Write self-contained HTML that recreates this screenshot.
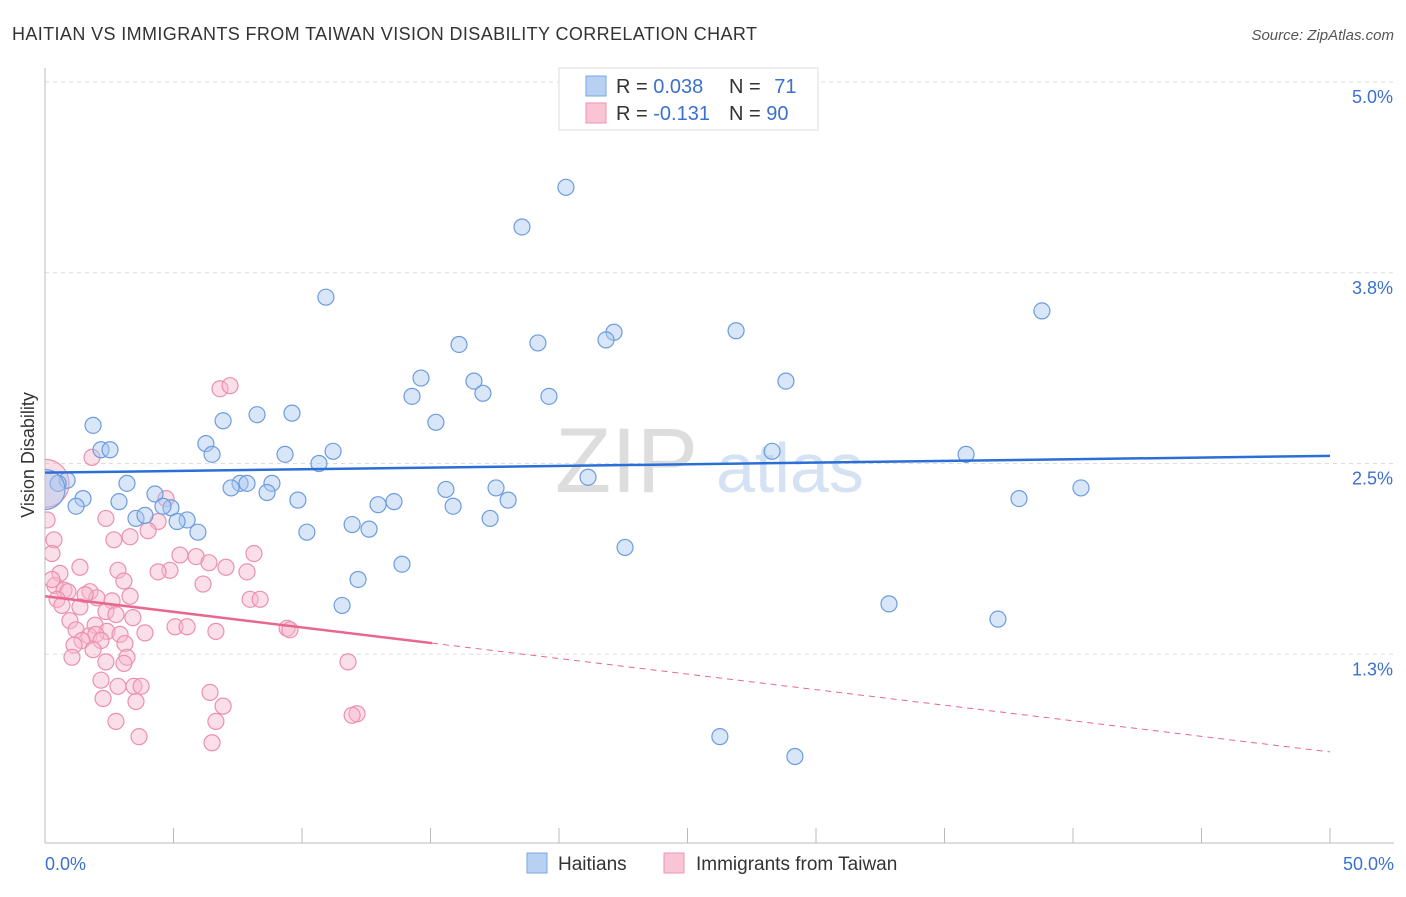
<!DOCTYPE html>
<html><head><meta charset="utf-8"><style>
body{margin:0;background:#fff;font-family:"Liberation Sans",sans-serif}
svg text{font-family:"Liberation Sans",sans-serif}
</style></head><body>
<svg width="1406" height="892">
<defs><clipPath id="plotclip"><rect x="45" y="60" width="1360" height="790"/></clipPath></defs>
<text x="12" y="40" font-size="18" fill="#333" textLength="745">HAITIAN VS IMMIGRANTS FROM TAIWAN VISION DISABILITY CORRELATION CHART</text>
<text x="1394" y="40" font-size="15" fill="#555" font-style="italic" text-anchor="end">Source: ZipAtlas.com</text>
<g id="grid"></g>
<text x="555" y="492" font-size="92" fill="#ddd" font-family="Liberation Serif">ZIP</text>
<text x="716" y="492" font-size="70" fill="#d4e2f4">atlas</text>
<text x="34" y="455" font-size="18" fill="#333" text-anchor="middle" transform="rotate(-90 34 455)">Vision Disability</text>
<g id="marks" clip-path="url(#plotclip)"></g>
<g>
<rect x="559" y="68" width="259" height="62" fill="#fff" stroke="#ddd"/>
<rect x="586" y="76" width="20" height="20" fill="#b8d1f3" stroke="#7aa6e6"/>
<rect x="586" y="103" width="20" height="20" fill="#f9c5d5" stroke="#ee94b2"/>
<text x="616" y="93" font-size="20" fill="#333">R = <tspan fill="#3b70d0">0.038</tspan></text>
<text x="729" y="93" font-size="20" fill="#333">N = <tspan fill="#3b70d0" dx="8">71</tspan></text>
<text x="616" y="120" font-size="20" fill="#333">R = <tspan fill="#3b70d0">-0.131</tspan></text>
<text x="729" y="120" font-size="20" fill="#333">N = <tspan fill="#3b70d0">90</tspan></text>
</g>
<g>
<rect x="527" y="853" width="20" height="20" fill="#b8d1f3" stroke="#7aa6e6"/>
<text x="558" y="870" font-size="19" fill="#333">Haitians</text>
<rect x="664" y="853" width="20" height="20" fill="#f9c5d5" stroke="#ee94b2"/>
<text x="696" y="870" font-size="19" fill="#333">Immigrants from Taiwan</text>
</g>
</svg>
<script>
const yTicks=[5.0,3.75,2.5,1.25];
const yTickLabels=["5.0%","3.8%","2.5%","1.3%"];
const xTickLabels=["0.0%","50.0%"];
const haitiX=[20.27,18.56,10.93,38.79,26.89,22.14,21.83,19.18,16.11,14.63,16.69,28.83,14.28,17.04,19.61,9.61,8.25,6.93,15.21,1.87,6.26,2.18,2.53,6.50,11.21,9.34,10.66,28.29,35.84,21.13,0.86,0.51,3.19,7.59,7.86,7.24,8.83,8.64,15.60,17.55,40.31,4.28,1.48,9.84,2.88,37.90,13.58,12.96,18.02,4.90,4.59,1.21,15.88,3.54,3.89,5.53,5.14,17.32,11.95,12.61,10.19,5.95,22.57,13.89,12.18,11.56,32.84,37.08,26.26,29.18,0.0];
const haitiY=[4.31,4.05,3.59,3.50,3.37,3.36,3.31,3.29,3.28,3.06,3.04,3.04,2.94,2.96,2.94,2.83,2.82,2.78,2.77,2.75,2.63,2.59,2.59,2.56,2.58,2.56,2.50,2.58,2.56,2.41,2.39,2.37,2.37,2.37,2.37,2.34,2.37,2.31,2.33,2.34,2.34,2.30,2.27,2.26,2.25,2.27,2.25,2.23,2.26,2.21,2.22,2.22,2.22,2.14,2.16,2.13,2.12,2.14,2.10,2.07,2.05,2.05,1.95,1.84,1.74,1.57,1.58,1.48,0.71,0.58,2.33];
const taiwanX=[1.83,6.81,7.20,4.71,2.37,4.40,3.31,2.68,4.01,0.35,0.27,5.25,5.88,8.13,6.38,1.36,4.86,7.04,7.86,4.40,2.84,0.58,3.07,0.39,6.15,0.74,0.89,1.75,2.02,1.56,3.31,0.47,7.98,8.37,2.61,1.36,0.66,2.37,2.76,3.42,1.95,0.97,5.06,5.53,9.42,9.53,1.21,6.65,2.41,3.89,1.71,1.98,2.92,1.44,2.18,1.13,3.11,1.87,3.19,3.07,1.05,11.79,2.37,2.18,2.84,3.46,3.74,6.42,2.26,3.54,6.93,2.76,6.65,12.14,11.95,3.66,6.50,0.08,0.27,0.0];
const taiwanY=[2.54,2.99,3.01,2.27,2.14,2.12,2.02,2.00,2.06,2.00,1.91,1.90,1.89,1.91,1.85,1.82,1.80,1.82,1.79,1.79,1.80,1.78,1.73,1.70,1.71,1.67,1.66,1.66,1.62,1.64,1.63,1.61,1.61,1.61,1.60,1.56,1.57,1.53,1.51,1.49,1.44,1.47,1.43,1.43,1.42,1.41,1.41,1.40,1.40,1.39,1.37,1.38,1.38,1.34,1.34,1.31,1.32,1.28,1.23,1.19,1.23,1.20,1.20,1.08,1.04,1.04,1.04,1.00,0.96,0.94,0.91,0.81,0.81,0.86,0.85,0.71,0.67,2.13,1.74,2.37];
const haitiTrend=[2.44,2.55];
const taiwanTrend=[1.63,0.61];
const taiwanSolidEnd=15.06;
const X=v=>45+v/50*1285, Y=v=>82+(5-v)*152.6;
const NS="http://www.w3.org/2000/svg";
function mk(p,t,a){const e=document.createElementNS(NS,t);for(const k in a)e.setAttribute(k,a[k]);p.appendChild(e);return e;}
const g=document.getElementById('grid'),m=document.getElementById('marks');
yTicks.forEach((t,i)=>{const l=mk(g,'line',{x1:45,x2:1394,y1:Y(t),y2:Y(t),stroke:'#ddd','stroke-dasharray':'4,4'});


const tx=mk(g,'text',{x:1393,y:Y(t)+21,'font-size':18,fill:'#3b70d0','text-anchor':'end'});tx.textContent=yTickLabels[i];

});
const ax=mk(g,'line',{x1:45,x2:45,y1:68,y2:843,stroke:'#bbb'});


const bx=mk(g,'line',{x1:45,x2:1394,y1:843,y2:843,stroke:'#bbb'});


for(let i=0;i<=10;i++){const t=mk(g,'line',{x1:X(i*5),x2:X(i*5),y1:828,y2:843,stroke:'#bbb'});

}
[[0,'start',45],[50,'end',1394]].forEach((d,i)=>{const t=mk(g,'text',{x:d[2],y:870,'font-size':18,fill:'#3b70d0','text-anchor':d[1]});t.textContent=xTickLabels[i];

});
function pts(xs,ys,fill,stroke,name,bigR){xs.forEach((x,i)=>{const big=i===xs.length-1;
const c=mk(m,'circle',{cx:X(x),cy:Y(ys[i]),r:big?bigR:8,fill:fill,'fill-opacity':0.45,stroke:stroke,'stroke-width':1.2});

});}
pts(taiwanX,taiwanY,'#f7b8cc','#ec8fb0','taiwan-point',24);
pts(haitiX,haitiY,'#a9c7f0','#6c9ce0','haitian-point',20);
const bl=mk(m,'line',{x1:X(0),x2:X(50),y1:Y(haitiTrend[0]),y2:Y(haitiTrend[1]),stroke:'#2a6fd6','stroke-width':2.5});


const pv=x=>taiwanTrend[0]+(taiwanTrend[1]-taiwanTrend[0])*x/50;
const pl=mk(m,'line',{x1:X(0),x2:X(taiwanSolidEnd),y1:Y(pv(0)),y2:Y(pv(taiwanSolidEnd)),stroke:'#e8678f','stroke-width':2.5});


const pd=mk(m,'line',{x1:X(taiwanSolidEnd),x2:X(50),y1:Y(pv(taiwanSolidEnd)),y2:Y(pv(50)),stroke:'#e8678f','stroke-width':1,'stroke-dasharray':'6,5'});


</script>
</body></html>
